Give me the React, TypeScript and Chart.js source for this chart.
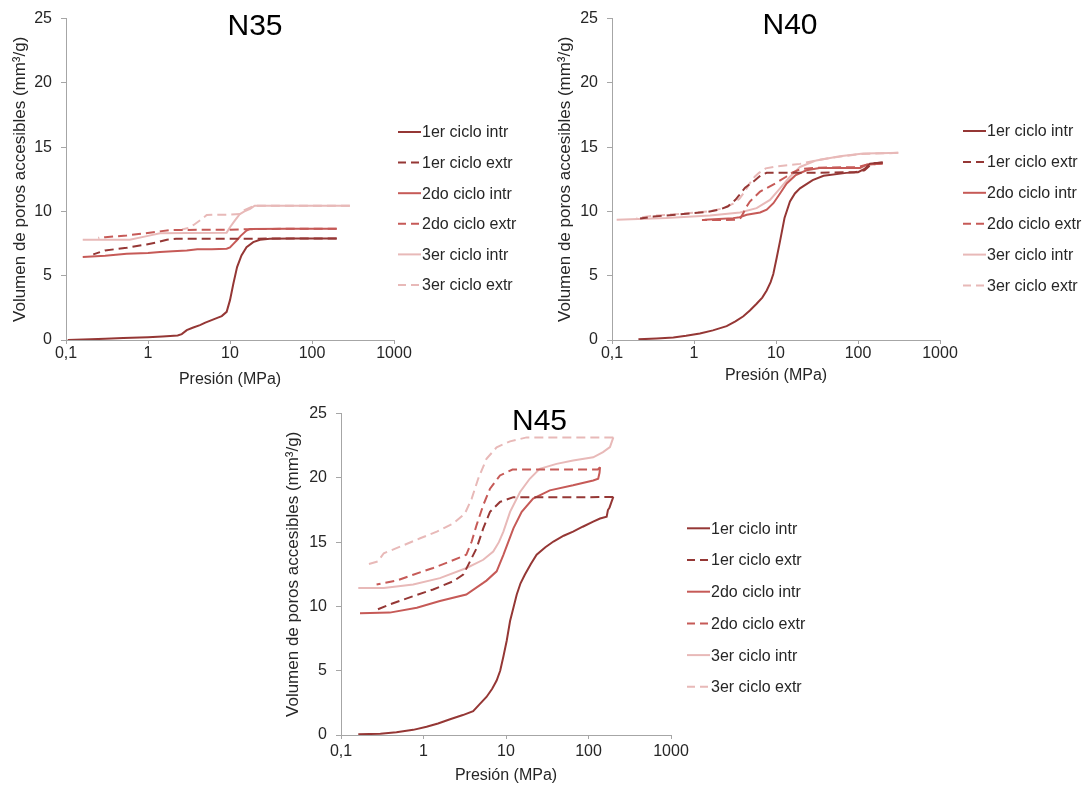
import React, { useEffect, useRef } from 'react';
import { Chart, registerables } from 'chart.js';

Chart.register(...registerables);

type Pt = [number, number];

const SERIES_LABELS = ['1er ciclo intr', '1er ciclo extr', '2do ciclo intr', '2do ciclo extr', '3er ciclo intr', '3er ciclo extr'];
const SERIES_COLORS = ['#953735', '#953735', '#C65A57', '#C65A57', '#E8B9B8', '#E8B9B8'];
const SERIES_DASHED = [false, true, false, true, false, true];

const X_TICKS = [0.1, 1, 10, 100, 1000];
const X_TICK_LABELS = ['0,1', '1', '10', '100', '1000'];
const Y_MIN = 0;
const Y_MAX = 25;
const Y_STEP = 5;
const X_TITLE = 'Presión (MPa)';
const Y_TITLE = 'Volumen de poros accesibles (mm³/g)';

// ---------- N35 ----------
const n35Intr1: Pt[] = [[0.105, 0.0], [0.2, 0.05], [0.3, 0.1], [0.5, 0.15], [1.0, 0.22], [1.5, 0.28], [1.86, 0.31], [2.3, 0.35], [2.58, 0.46], [2.97, 0.77], [3.5, 0.95], [4.3, 1.16], [5.0, 1.35], [5.97, 1.55], [7.0, 1.72], [7.93, 1.86], [9.1, 2.19], [10, 3.1], [11, 4.39], [12.2, 5.67], [13.8, 6.58], [15.9, 7.22], [19.2, 7.61], [23.2, 7.79], [30.6, 7.87], [60, 7.9], [200, 7.9]];
const n35Extr1: Pt[] = [[200, 7.9], [60, 7.9], [20, 7.88], [5, 7.87], [2.2, 7.87], [1.7, 7.8], [1.3, 7.6], [0.96, 7.43], [0.55, 7.17], [0.3, 6.97], [0.215, 6.66]];
const n35Intr2: Pt[] = [[0.16, 6.45], [0.3, 6.55], [0.55, 6.7], [1.0, 6.76], [1.4, 6.84], [2.0, 6.9], [2.97, 6.97], [4, 7.05], [6, 7.05], [9.1, 7.1], [10, 7.2], [11, 7.48], [12.05, 7.74], [13.5, 8.1], [15.9, 8.51], [17.6, 8.64], [50, 8.65], [200, 8.65]];
const n35Extr2: Pt[] = [[200, 8.65], [50, 8.65], [17.6, 8.62], [10, 8.58], [5, 8.57], [1.86, 8.56], [1.16, 8.38], [0.55, 8.13], [0.3, 8.0], [0.25, 7.95]];
const n35Intr3: Pt[] = [[0.16, 7.8], [0.6, 7.8], [1.0, 8.1], [1.4, 8.3], [3, 8.32], [9.1, 8.35], [10, 8.77], [11.5, 9.3], [13.2, 9.8], [15, 10.0], [17.6, 10.2], [20, 10.45], [100, 10.45], [290, 10.45]];
const n35Extr3: Pt[] = [[290, 10.45], [100, 10.45], [20, 10.45], [15, 10.1], [13.2, 9.8], [10, 9.75], [7, 9.75], [5.2, 9.72], [4.4, 9.35], [3.6, 8.95], [3.1, 8.72], [2.6, 8.6]];

// ---------- N40 ----------
const n40Intr1: Pt[] = [[0.21, 0.05], [0.35, 0.12], [0.56, 0.2], [0.8, 0.33], [1.18, 0.51], [1.7, 0.75], [2.5, 1.08], [3.2, 1.45], [4.0, 1.85], [4.8, 2.3], [5.8, 2.82], [6.8, 3.3], [7.7, 3.85], [8.6, 4.5], [9.27, 5.13], [10.2, 6.4], [11.2, 7.69], [12.7, 9.49], [14.8, 10.77], [17, 11.4], [19.6, 11.8], [28, 12.44], [38, 12.77], [72, 13.0], [100, 13.05], [120, 13.3], [140, 13.72], [200, 13.8]];
const n40Extr1: Pt[] = [[200, 13.8], [150, 13.75], [120, 13.2], [90, 13.05], [21, 13.0], [7.7, 13.0], [6.5, 12.8], [5.5, 12.4], [4.2, 11.85], [3.6, 11.3], [3.2, 10.9], [2.6, 10.4], [2.07, 10.15], [1.42, 9.95], [0.74, 9.8], [0.32, 9.6], [0.22, 9.45]];
const n40Intr2: Pt[] = [[1.35, 9.36], [2.0, 9.42], [3.0, 9.48], [3.6, 9.55], [4.4, 9.74], [6.4, 9.92], [7.7, 10.13], [9.3, 10.64], [11.2, 11.4], [13.5, 12.18], [17.2, 12.8], [23.5, 13.2], [34, 13.38], [106, 13.38], [128, 13.64], [200, 13.72]];
const n40Extr2: Pt[] = [[200, 13.72], [130, 13.65], [100, 13.45], [30, 13.4], [20, 13.3], [15, 12.95], [13.3, 12.7], [9.8, 12.18], [6.4, 11.54], [4.8, 10.77], [4.3, 10.3], [4.0, 9.87], [3.7, 9.5], [3.3, 9.36], [2.0, 9.33], [1.25, 9.33]];
const n40Intr3: Pt[] = [[0.114, 9.36], [0.46, 9.49], [1.57, 9.69], [3.64, 9.92], [5.8, 10.26], [8.45, 10.9], [11.2, 11.8], [14.8, 12.7], [19.6, 13.46], [31, 13.97], [60, 14.3], [116, 14.5], [245, 14.54], [310, 14.56]];
const n40Extr3: Pt[] = [[310, 14.56], [100, 14.45], [40, 14.1], [25, 13.85], [19.6, 13.7], [14, 13.6], [10, 13.5], [7.5, 13.35], [6.2, 13.0], [5.5, 12.7], [4.8, 12.2], [4.2, 11.6], [3.6, 11.0], [3.0, 10.6], [2.3, 10.25], [1.5, 10.0], [0.8, 9.85], [0.3, 9.65], [0.2, 9.5]];

// ---------- N45 ----------
const n45Intr1: Pt[] = [[0.162, 0.05], [0.3, 0.1], [0.47, 0.21], [0.75, 0.4], [1.09, 0.64], [1.5, 0.9], [2.1, 1.23], [3.0, 1.55], [4.0, 1.85], [4.8, 2.4], [5.8, 2.96], [6.8, 3.6], [7.7, 4.24], [8.5, 5.0], [9.3, 6.1], [10.2, 7.33], [11.2, 8.87], [12.3, 9.9], [13.5, 10.93], [15, 11.8], [16.9, 12.47], [20, 13.3], [23.5, 14.02], [30, 14.6], [37.6, 15.05], [50, 15.5], [65, 15.82], [85, 16.2], [114, 16.59], [138, 16.84], [166, 16.98], [172, 17.5], [180, 17.7], [190, 18.13], [200, 18.52]];
const n45Extr1: Pt[] = [[200, 18.52], [100, 18.5], [30, 18.5], [12.3, 18.5], [8.45, 18.13], [6.4, 17.36], [5.3, 16.07], [4.4, 14.53], [3.5, 13.25], [3.03, 12.47], [2.3, 11.96], [1.31, 11.32], [0.75, 10.8], [0.39, 10.16], [0.25, 9.65]];
const n45Intr2: Pt[] = [[0.17, 9.47], [0.39, 9.52], [0.83, 9.9], [1.58, 10.42], [3.3, 10.93], [5.3, 11.83], [5.8, 12.01], [7.7, 12.73], [9.3, 14.02], [12.3, 16.07], [15.5, 17.36], [21.3, 18.39], [34, 19.03], [65, 19.42], [114, 19.8], [131, 19.93], [136, 20.4], [138, 20.83]];
const n45Extr2: Pt[] = [[138, 20.83], [130, 20.65], [50, 20.65], [12, 20.65], [8.45, 20.19], [6.4, 19.16], [5.3, 17.88], [4.4, 16.33], [3.84, 15.05], [3.3, 14.02], [2.1, 13.5], [1.31, 12.99], [0.75, 12.47], [0.47, 12.01], [0.27, 11.7]];
const n45Intr3: Pt[] = [[0.162, 11.44], [0.33, 11.44], [0.75, 11.7], [1.58, 12.2], [3.33, 12.99], [5.3, 13.63], [7.0, 14.27], [8.2, 15.0], [9.3, 15.82], [11.2, 17.36], [14.8, 18.9], [19.4, 19.93], [25.6, 20.7], [41, 21.09], [65, 21.35], [114, 21.6], [150, 22.0], [182, 22.4], [200, 23.15]];
const n45Extr3: Pt[] = [[200, 23.15], [100, 23.15], [17.8, 23.15], [11.2, 22.84], [7.7, 22.38], [5.8, 21.48], [4.6, 19.93], [3.84, 18.39], [3.18, 17.23], [2.3, 16.46], [1.45, 15.82], [0.91, 15.3], [0.47, 14.53], [0.33, 14.14], [0.28, 13.5], [0.205, 13.25]];

const FONT = '"Liberation Sans", Arial, sans-serif';
const TEXT_COLOR = '#262626';
const AXIS_COLOR = '#a6a6a6';

interface PanelProps {
  left: number; top: number; width: number; height: number;
  padTop: number; padRight: number; yWidth: number; xHeight: number;
  yTitlePad: number; xTitlePad: number; xTickPad: number;
  title: string; titleX: number; titleY: number;
  legendX: number; legendY: number; legendGap: number;
  series: Pt[][];
}

function Panel(p: PanelProps) {
  const ref = useRef<HTMLCanvasElement | null>(null);
  useEffect(() => {
    if (!ref.current) return;
    const decor = {
      id: 'panelDecor',
      afterDraw(chart: any) {
        const ctx = chart.ctx as CanvasRenderingContext2D;
        ctx.save();
        ctx.fillStyle = '#000';
        ctx.font = `30px ${FONT}`;
        ctx.textAlign = 'center';
        ctx.textBaseline = 'middle';
        ctx.fillText(p.title, p.titleX, p.titleY);
        chart.data.datasets.forEach((ds: any, i: number) => {
          const y = p.legendY + i * p.legendGap;
          ctx.beginPath();
          ctx.setLineDash(ds.borderDash && ds.borderDash.length ? [8, 5] : []);
          ctx.strokeStyle = ds.borderColor;
          ctx.lineWidth = ds.borderWidth;
          ctx.moveTo(p.legendX, y);
          ctx.lineTo(p.legendX + 23, y);
          ctx.stroke();
          ctx.setLineDash([]);
          ctx.fillStyle = TEXT_COLOR;
          ctx.font = `16px ${FONT}`;
          ctx.textAlign = 'left';
          ctx.textBaseline = 'middle';
          ctx.fillText(ds.label, p.legendX + 24, y + 1);
        });
        ctx.restore();
      },
    };
    const chart = new Chart(ref.current, {
      type: 'scatter',
      data: {
        datasets: p.series.map((s, i) => ({
          label: SERIES_LABELS[i],
          data: s.map(([x, y]) => ({ x, y })),
          showLine: true,
          borderColor: SERIES_COLORS[i],
          backgroundColor: SERIES_COLORS[i],
          borderWidth: 2,
          borderDash: SERIES_DASHED[i] ? [9, 5] : [],
          pointRadius: 0,
          tension: 0,
        })),
      },
      options: {
        responsive: false,
        animation: false,
        layout: { padding: { left: 0, top: p.padTop, right: p.padRight, bottom: 0 } },
        plugins: { legend: { display: false }, tooltip: { enabled: false }, title: { display: false } },
        scales: {
          x: {
            type: 'logarithmic',
            min: X_TICKS[0],
            max: X_TICKS[X_TICKS.length - 1],
            afterBuildTicks: (s: any) => { s.ticks = X_TICKS.map((v) => ({ value: v })); },
            afterFit: (s: any) => { s.height = p.xHeight; },
            ticks: {
              autoSkip: false,
              maxRotation: 0,
              color: TEXT_COLOR,
              padding: p.xTickPad,
              font: { family: FONT, size: 16, lineHeight: 1 },
              callback: (v: any) => {
                const idx = X_TICKS.findIndex((t) => Math.abs(t - Number(v)) < 1e-9 * Math.max(1, t));
                return idx >= 0 ? X_TICK_LABELS[idx] : '';
              },
            },
            grid: { drawOnChartArea: false, drawTicks: true, tickLength: 4, color: AXIS_COLOR },
            border: { display: true, color: AXIS_COLOR, width: 1 },
            title: { display: true, text: X_TITLE, color: TEXT_COLOR, font: { family: FONT, size: 16 }, padding: { top: 0, bottom: p.xTitlePad } },
          },
          y: {
            type: 'linear',
            min: Y_MIN,
            max: Y_MAX,
            afterFit: (s: any) => { s.width = p.yWidth; },
            ticks: { stepSize: Y_STEP, color: TEXT_COLOR, padding: 9, font: { family: FONT, size: 16 } },
            grid: { drawOnChartArea: false, drawTicks: true, tickLength: 5, color: AXIS_COLOR },
            border: { display: true, color: AXIS_COLOR, width: 1 },
            title: { display: true, text: Y_TITLE, color: TEXT_COLOR, font: { family: FONT, size: 17 }, padding: { top: p.yTitlePad, bottom: 0 } },
          },
        },
      },
      plugins: [decor],
    } as any);
    return () => chart.destroy();
  }, []);
  return (
    <canvas
      ref={ref}
      width={p.width}
      height={p.height}
      style={{ position: 'absolute', left: p.left, top: p.top, width: p.width, height: p.height, display: 'block' }}
    />
  );
}

export default function App() {
  return (
    <div style={{ position: 'absolute', left: 0, top: 0, width: 1086, height: 787, background: '#fff', overflow: 'hidden' }}>
      <Panel left={0} top={0} width={540} height={395} padTop={17} padRight={146} yWidth={66} xHeight={55}
        yTitlePad={9.8} xTitlePad={5.4} xTickPad={2} title="N35" titleX={255} titleY={27}
        legendX={398} legendY={132} legendGap={30.6}
        series={[n35Intr1, n35Extr1, n35Intr2, n35Extr2, n35Intr3, n35Extr3]} />
      <Panel left={540} top={0} width={546} height={395} padTop={15} padRight={146} yWidth={72} xHeight={55}
        yTitlePad={14.8} xTitlePad={9.4} xTickPad={2} title="N40" titleX={250} titleY={26}
        legendX={423} legendY={131} legendGap={30.9}
        series={[n40Intr1, n40Extr1, n40Intr2, n40Extr2, n40Intr3, n40Extr3]} />
      <Panel left={270} top={395} width={560} height={392} padTop={16} padRight={159} yWidth={71} xHeight={52}
        yTitlePad={13.3} xTitlePad={1.4} xTickPad={5} title="N45" titleX={269.5} titleY={27}
        legendX={417} legendY={133.3} legendGap={31.7}
        series={[n45Intr1, n45Extr1, n45Intr2, n45Extr2, n45Intr3, n45Extr3]} />
    </div>
  );
}
